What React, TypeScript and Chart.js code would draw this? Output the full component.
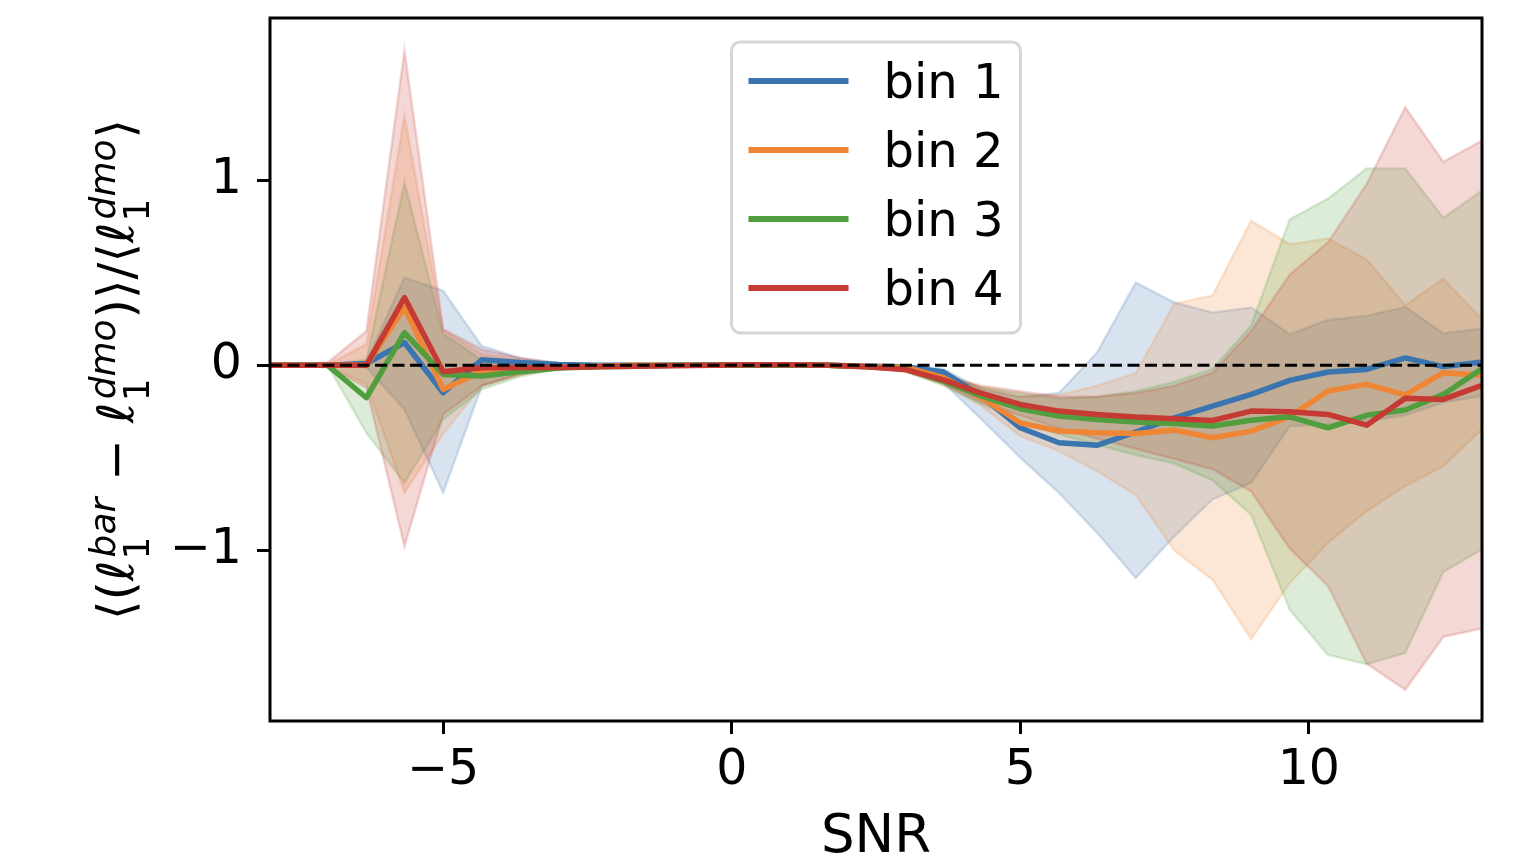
import React, { useEffect, useRef } from 'react';
import { Chart, registerables } from 'chart.js';

Chart.register(...registerables);

// SNR grid (step 2/3)
const snr = [
  -8.33, -7.67, -7.0, -6.33, -5.67, -5.0, -4.33, -3.67, -3.0, -2.33, -1.67,
  -1.0, -0.33, 0.33, 1.0, 1.67, 2.33, 3.0, 3.67, 4.33, 5.0, 5.67, 6.33, 7.0,
  7.67, 8.33, 9.0, 9.67, 10.33, 11.0, 11.67, 12.33, 13.0,
];

const bin1Mean = [
  0, 0, 0, 0.01, 0.123, -0.148, 0.03, 0.015, 0.005, 0, 0, 0, 0.003, 0.003,
  0.002, 0, -0.005, -0.008, -0.036, -0.166, -0.337, -0.418, -0.432, -0.36,
  -0.283, -0.22, -0.157, -0.081, -0.036, -0.022, 0.04, -0.007, 0.018,
];
const bin1Low = [
  0, 0, 0, -0.01, -0.238, -0.688, -0.112, -0.045, -0.015, -0.008, -0.004,
  -0.004, -0.004, -0.004, -0.004, -0.004, -0.01, -0.03, -0.094, -0.292, -0.499,
  -0.688, -0.904, -1.148, -0.923, -0.724, -0.634, -0.328, -0.32, -0.3, -0.27,
  -0.2, -0.166,
];
const bin1High = [
  0, 0, 0, 0.02, 0.474, 0.402, 0.104, 0.04, 0.012, 0.005, 0.003, 0.003, 0.003,
  0.003, 0.003, 0.003, 0.0, 0.0, -0.02, -0.13, -0.17, -0.15, 0.069, 0.447,
  0.339, 0.285, 0.312, 0.168, 0.245, 0.267, 0.315, 0.173, 0.198,
];

const bin2Mean = [
  0, 0, 0, 0, 0.312, -0.13, -0.03, -0.02, -0.01, -0.005, 0, 0, 0, 0, 0, 0,
  -0.005, -0.01, -0.067, -0.175, -0.31, -0.355, -0.364, -0.368, -0.35, -0.391,
  -0.355, -0.277, -0.139, -0.103, -0.16, -0.04, -0.054,
];
const bin2Low = [
  0, 0, -0.005, -0.1, -0.688, -0.37, -0.11, -0.05, -0.02, -0.008, -0.004,
  -0.004, -0.004, -0.004, -0.004, -0.004, -0.008, -0.025, -0.1, -0.22, -0.382,
  -0.463, -0.571, -0.7, -1.0, -1.157, -1.478, -1.175, -0.959, -0.788, -0.652,
  -0.544, -0.346,
];
const bin2High = [
  0, 0, 0.005, 0.114, 1.348, 0.19, 0.06, 0.03, 0.01, 0.003, 0.003, 0.003,
  0.003, 0.003, 0.003, 0.003, 0, 0, -0.04, -0.12, -0.17, -0.16, -0.11, -0.043,
  0.333, 0.377, 0.78, 0.654, 0.685, 0.573, 0.324, 0.468, 0.249,
];

const bin3Mean = [
  0, 0, 0, -0.175, 0.177, -0.049, -0.058, -0.035, -0.015, -0.008, -0.005, 0,
  0, 0, 0, 0, -0.008, -0.02, -0.085, -0.166, -0.234, -0.274, -0.292, -0.306,
  -0.314, -0.328, -0.296, -0.278, -0.337, -0.27, -0.241, -0.157, -0.018,
];
const bin3Low = [
  0, 0, 0, -0.364, -0.634, -0.292, -0.13, -0.06, -0.02, -0.01, -0.005, -0.005,
  -0.005, -0.005, -0.005, -0.005, -0.01, -0.03, -0.11, -0.21, -0.3, -0.373,
  -0.429, -0.484, -0.53, -0.62, -0.807, -1.32, -1.563, -1.613, -1.553, -1.115,
  -0.993,
];
const bin3High = [
  0, 0, 0, 0.032, 0.987, 0.17, 0.03, 0.015, 0.005, 0.002, 0.002, 0.002, 0.002,
  0.002, 0.002, 0.002, 0, -0.01, -0.06, -0.12, -0.15, -0.18, -0.17, -0.14,
  -0.09, -0.02, 0.215, 0.788, 0.9, 1.063, 1.063, 0.797, 0.944,
];

const bin4Mean = [
  0, 0, 0, 0, 0.366, -0.035, -0.013, -0.012, -0.012, -0.008, -0.005, -0.002,
  0, 0.003, 0.003, 0, -0.008, -0.022, -0.079, -0.151, -0.211, -0.247, -0.265,
  -0.279, -0.288, -0.298, -0.247, -0.25, -0.265, -0.323, -0.178, -0.184, -0.108,
];
const bin4Low = [
  0, 0, -0.01, -0.12, -0.977, -0.265, -0.11, -0.05, -0.02, -0.01, -0.005,
  -0.005, -0.005, -0.005, -0.005, -0.005, -0.01, -0.035, -0.1, -0.2, -0.27,
  -0.34, -0.396, -0.45, -0.506, -0.561, -0.68, -0.99, -1.19, -1.61, -1.751,
  -1.466, -1.42,
];
const bin4High = [
  0, 0, 0.015, 0.185, 1.699, 0.195, 0.086, 0.04, 0.01, 0.003, 0.003, 0.003,
  0.003, 0.003, 0.003, 0.003, 0, -0.01, -0.06, -0.11, -0.14, -0.17, -0.17,
  -0.15, -0.11, -0.04, 0.185, 0.49, 0.663, 0.978, 1.393, 1.099, 1.213,
];

const binLabels = ['bin 1', 'bin 2', 'bin 3', 'bin 4'];
const binColors = ['#3b75af', '#ef8636', '#519e3e', '#c53a32'];
const means = [bin1Mean, bin2Mean, bin3Mean, bin4Mean];
const lows = [bin1Low, bin2Low, bin3Low, bin4Low];
const highs = [bin1High, bin2High, bin3High, bin4High];

const xTicks = [-5, 0, 5, 10];
const yTicks = [-1, 0, 1];
const X_MIN = -8;
const X_MAX = 13;
const Y_MIN = -1.92;
const Y_MAX = 1.875;

const FONT = "'DejaVu Sans', sans-serif";

const rgba = (hex: string, a: number) => {
  const n = parseInt(hex.slice(1), 16);
  return `rgba(${(n >> 16) & 255},${(n >> 8) & 255},${n & 255},${a})`;
};

const pts = (ys: number[]) => snr.map((x, i) => ({ x, y: ys[i] }));

const fmt = (v: number) => (v < 0 ? '\u2212' + Math.abs(v) : String(v));

// axis titles, spines and legend drawn by hand
const decorPlugin = {
  id: 'decor',
  afterDatasetsDraw(chart: any) {
    const { ctx, chartArea: a } = chart;
    ctx.save();
    // spines
    ctx.strokeStyle = '#000';
    ctx.lineWidth = 3;
    ctx.strokeRect(a.left, a.top, a.right - a.left, a.bottom - a.top);

    // legend (upper center)
    const bw = 289;
    const bh = 291;
    const bx = (a.left + a.right) / 2 - bw / 2;
    const by = a.top + 24;
    ctx.beginPath();
    ctx.roundRect(bx, by, bw, bh, 9);
    ctx.fillStyle = 'rgba(255,255,255,0.8)';
    ctx.fill();
    ctx.strokeStyle = '#d6d6d6';
    ctx.lineWidth = 3;
    ctx.stroke();
    ctx.font = `48px ${FONT}`;
    ctx.textAlign = 'left';
    ctx.textBaseline = 'alphabetic';
    binLabels.forEach((lab, i) => {
      const ly = by + 39 + i * 69;
      ctx.strokeStyle = binColors[i];
      ctx.lineWidth = 6;
      ctx.beginPath();
      ctx.moveTo(bx + 17, ly);
      ctx.lineTo(bx + 117, ly);
      ctx.stroke();
      ctx.fillStyle = '#000';
      ctx.fillText(lab, bx + 152, ly + 17);
    });
    ctx.restore();
  },
  afterDraw(chart: any) {
    const { ctx, chartArea: a } = chart;
    ctx.save();
    ctx.fillStyle = '#000';
    // x title
    ctx.font = `53px ${FONT}`;
    ctx.textAlign = 'center';
    ctx.textBaseline = 'alphabetic';
    ctx.fillText('SNR', (a.left + a.right) / 2, 852);

    // y title with sub/superscripts
    const main = 50;
    const small = 36;
    const segs: { t: string; it: boolean; sup?: string; sub?: string }[] = [
      { t: '\u27e8(', it: false },
      { t: '\u2113', it: true, sup: 'bar', sub: '1' },
      { t: ' \u2212 ', it: false },
      { t: '\u2113', it: true, sup: 'dmo', sub: '1' },
      { t: ')\u27e9/\u27e8', it: false },
      { t: '\u2113', it: true, sup: 'dmo', sub: '1' },
      { t: '\u27e9', it: false },
    ];
    const fMain = (it: boolean) => `${it ? 'italic ' : ''}${main}px ${FONT}`;
    const fSmall = (it: boolean) => `${it ? 'italic ' : ''}${small}px ${FONT}`;
    const widths = segs.map((s) => {
      ctx.font = fMain(s.it);
      let w = ctx.measureText(s.t).width;
      if (s.sup) {
        ctx.font = fSmall(true);
        const ws = ctx.measureText(s.sup).width;
        ctx.font = fSmall(false);
        const wb = ctx.measureText(s.sub || '').width;
        w += Math.max(ws, wb) + 4;
      }
      return w;
    });
    const total = widths.reduce((p, c) => p + c, 0);
    const cx = 117;
    const cy = (a.top + a.bottom) / 2;
    ctx.translate(cx, cy);
    ctx.rotate(-Math.PI / 2);
    ctx.textAlign = 'left';
    let x = -total / 2;
    const base = 16;
    segs.forEach((s) => {
      ctx.font = fMain(s.it);
      ctx.fillText(s.t, x, base);
      let w = ctx.measureText(s.t).width;
      if (s.sup) {
        const sx = x + w + 3;
        ctx.font = fSmall(true);
        ctx.fillText(s.sup, sx, base - 18);
        const ws = ctx.measureText(s.sup).width;
        ctx.font = fSmall(false);
        ctx.fillText(s.sub || '', sx - 2, base + 16);
        const wb = ctx.measureText(s.sub || '').width;
        w += Math.max(ws, wb) + 4;
      }
      x += w;
    });
    ctx.restore();
  },
};

const App: React.FC = () => {
  const canvasRef = useRef<HTMLCanvasElement>(null);

  useEffect(() => {
    document.body.style.margin = '0';
    if (!canvasRef.current) return;
    const ctx = canvasRef.current.getContext('2d');
    if (!ctx) return;

    const lineSets = means
      .map((m, i) => ({
        label: binLabels[i],
        data: pts(m),
        borderColor: binColors[i],
        borderWidth: 5.5,
        borderJoinStyle: 'round' as const,
        pointRadius: 0,
        fill: false,
        order: 4 - i,
      }))
      .reverse();

    const bandSets: any[] = [];
    for (let i = 3; i >= 0; i--) {
      const common = {
        borderColor: rgba(binColors[i], 0.2),
        borderWidth: 2.5,
        pointRadius: 0,
        order: 10 + (3 - i),
      };
      bandSets.push({
        ...common,
        label: binLabels[i] + ' upper',
        data: pts(highs[i]),
        fill: '+1',
        backgroundColor: rgba(binColors[i], 0.2),
      });
      bandSets.push({
        ...common,
        label: binLabels[i] + ' lower',
        data: pts(lows[i]),
        fill: false,
      });
    }

    const zeroSet = {
      label: 'zero',
      data: [
        { x: X_MIN, y: 0 },
        { x: X_MAX, y: 0 },
      ],
      borderColor: '#000',
      borderWidth: 3,
      borderDash: [12, 5.5],
      pointRadius: 0,
      fill: false,
      order: 0,
    };

    const tickFont = { family: FONT, size: 49 };

    const chart = new Chart(ctx, {
      type: 'line',
      data: { datasets: [zeroSet, ...lineSets, ...bandSets] as any },
      options: {
        responsive: false,
        animation: false,
        layout: { padding: { left: 0, right: 32, top: 18, bottom: 0 } },
        plugins: { legend: { display: false }, tooltip: { enabled: false } },
        elements: { line: { tension: 0 } },
        scales: {
          x: {
            type: 'linear',
            min: X_MIN,
            max: X_MAX,
            afterBuildTicks: (s: any) => {
              s.ticks = xTicks.map((v) => ({ value: v }));
            },
            afterFit: (s: any) => {
              s.height = 145;
              s.paddingLeft = 0;
              s.paddingRight = 0;
            },
            ticks: {
              callback: (v: any) => fmt(Number(v)),
              font: tickFont,
              color: '#000',
              padding: 8,
              maxRotation: 0,
              autoSkip: false,
            },
            grid: {
              drawOnChartArea: false,
              drawTicks: true,
              tickLength: 13,
              tickWidth: 3,
              tickColor: '#000',
            },
            border: { display: false },
          },
          y: {
            type: 'linear',
            min: Y_MIN,
            max: Y_MAX,
            afterBuildTicks: (s: any) => {
              s.ticks = yTicks.map((v) => ({ value: v }));
            },
            afterFit: (s: any) => {
              s.width = 270;
              s.paddingTop = 0;
              s.paddingBottom = 0;
            },
            ticks: {
              callback: (v: any) => fmt(Number(v)),
              font: tickFont,
              color: '#000',
              padding: 15,
              autoSkip: false,
            },
            grid: {
              drawOnChartArea: false,
              drawTicks: true,
              tickLength: 13,
              tickWidth: 3,
              tickColor: '#000',
            },
            border: { display: false },
          },
        },
      },
      plugins: [decorPlugin],
    });

    return () => {
      chart.destroy();
    };
  }, []);

  return (
    <div style={{ width: 1514, height: 866, background: '#fff' }}>
      <canvas ref={canvasRef} width={1514} height={866} />
    </div>
  );
};

export default App;
